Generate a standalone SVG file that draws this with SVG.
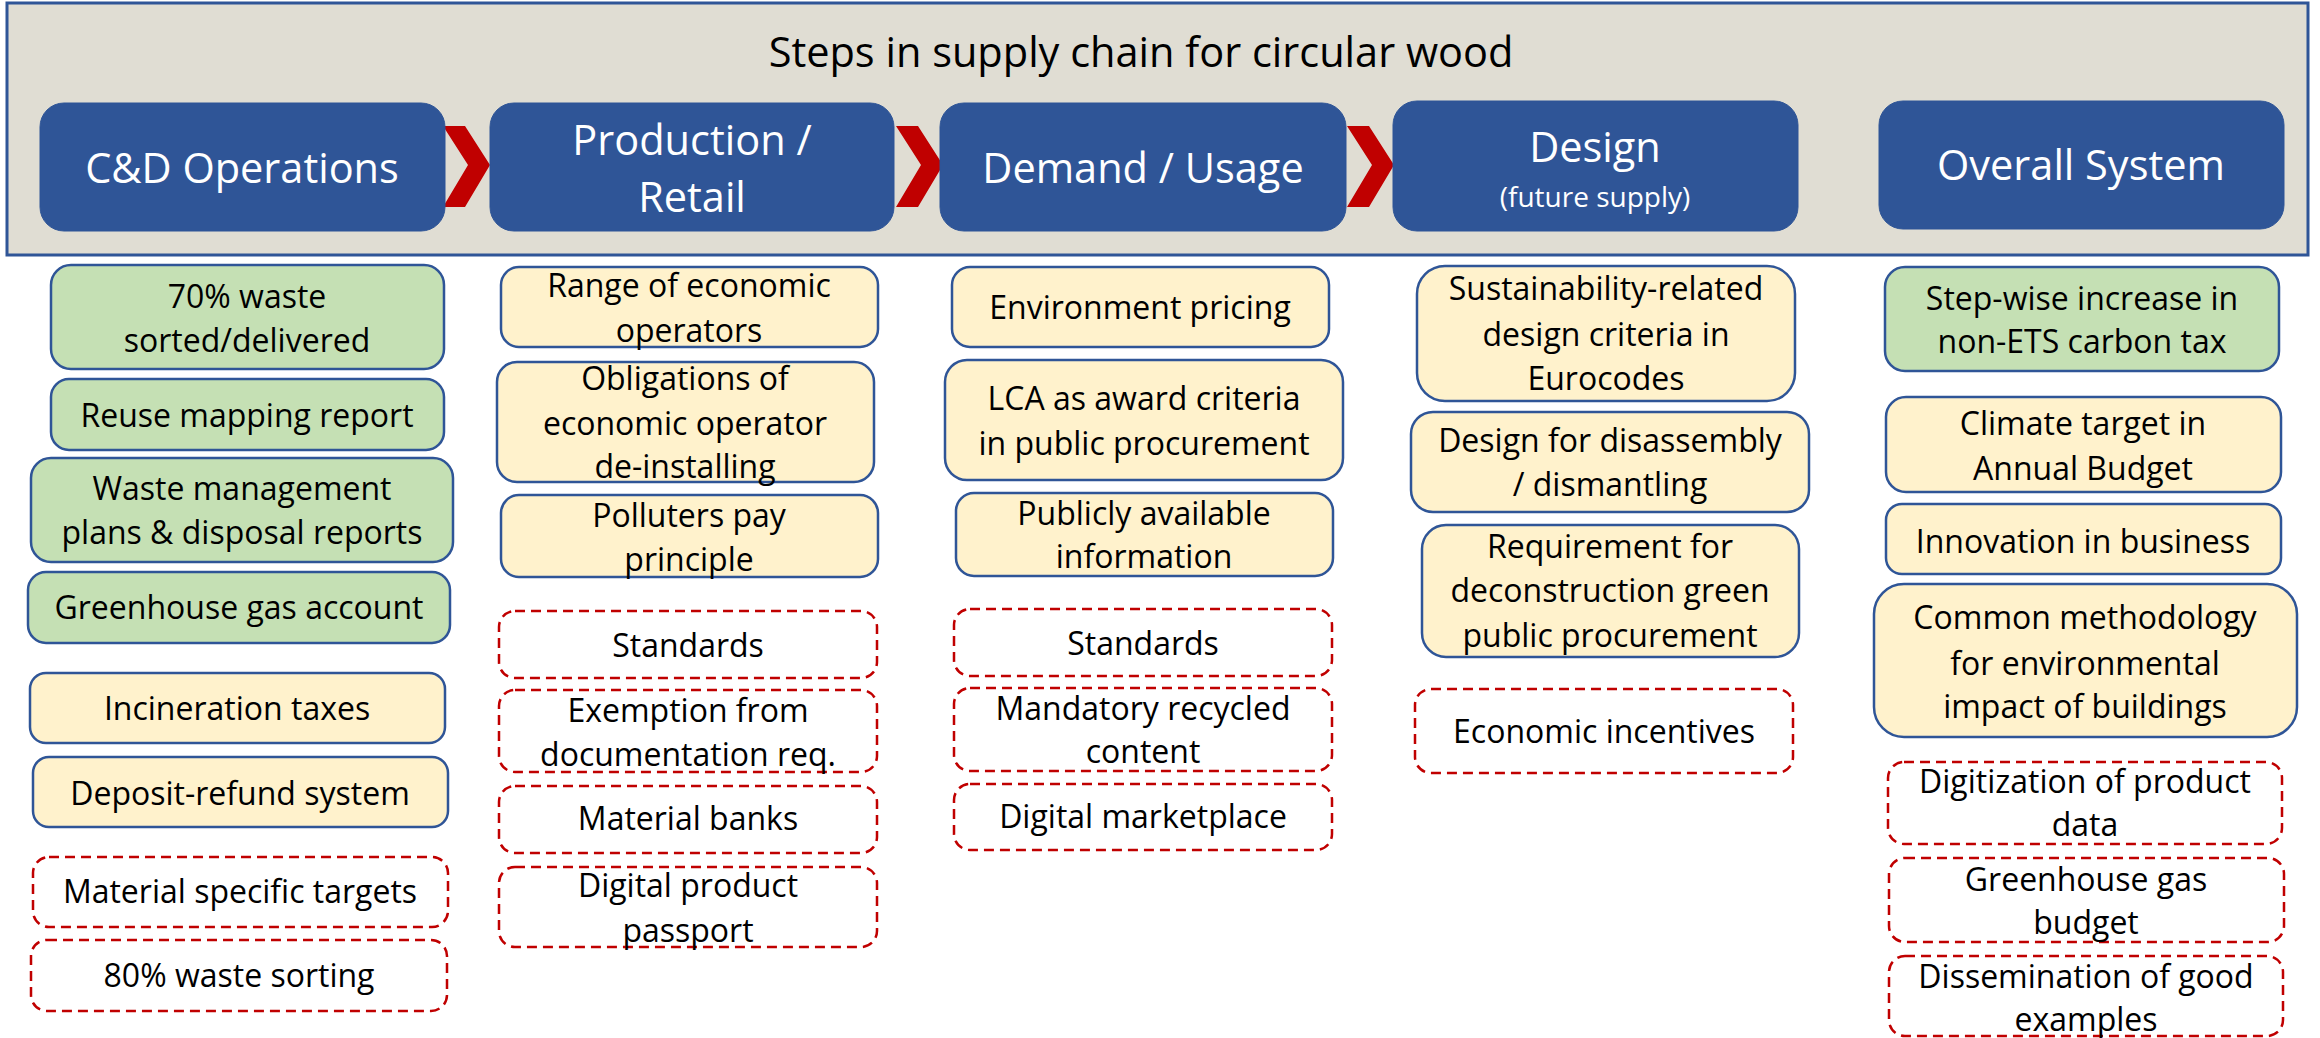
<svg xmlns="http://www.w3.org/2000/svg" width="2320" height="1038" viewBox="0 0 2320 1038">
<style>
text{font-family:"Open Sans","Noto Sans",sans-serif;text-anchor:middle}
.frame{fill:#E0DDD3;stroke:#2F5597;stroke-width:3}
.title{font-size:41.5px;fill:#000}
.hdr{fill:#2F5597;stroke:#2F5597;stroke-width:1}
.ht{font-size:41.5px;fill:#fff}
.hs{font-size:28px;fill:#fff}
.g{fill:#C5E0B4;stroke:#2F5597;stroke-width:2.5}
.y{fill:#FFF2CC;stroke:#2F5597;stroke-width:2.5}
.d{fill:#fff;stroke:#C00000;stroke-width:2.5;stroke-dasharray:10 6}
.t{font-size:32px;fill:#000}
.chev{fill:#C00000}
</style>
<rect class="frame" x="7" y="3" width="2301" height="252"/>
<text class="title" x="1141" y="67">Steps in supply chain for circular wood</text>

<g id="connectors">
<path class="chev" d="M443,126 L465,126 L490,165 L465,207 L443,207 L468,165 Z"/>
<path class="chev" d="M896,126 L918,126 L943,165 L918,207 L896,207 L921,165 Z"/>
<path class="chev" d="M1347,126 L1369,126 L1394,165 L1369,207 L1347,207 L1372,165 Z"/>
</g>

<g id="h-cd"><rect class="hdr" x="40" y="103" width="405" height="128" rx="24"/><text class="ht" x="242" y="183">C&amp;D Operations</text></g>
<g id="h-prod"><rect class="hdr" x="490" y="103" width="404" height="128" rx="24"/><text class="ht" x="692" y="155">Production /</text><text class="ht" x="692" y="212">Retail</text></g>
<g id="h-demand"><rect class="hdr" x="940" y="103" width="406" height="128" rx="24"/><text class="ht" x="1143" y="183">Demand / Usage</text></g>
<g id="h-design"><rect class="hdr" x="1393" y="101" width="405" height="130" rx="24"/><text class="ht" x="1595" y="162">Design</text><text class="hs" x="1595" y="207">(future supply)</text></g>
<g id="h-overall"><rect class="hdr" x="1879" y="101" width="405" height="128" rx="24"/><text class="ht" x="2081" y="180">Overall System</text></g>

<g id="a1"><rect class="g" x="51" y="265" width="393" height="104" rx="20"/><text class="t" x="247" y="308">70% waste</text><text class="t" x="247" y="352">sorted/delivered</text></g>
<g id="a2"><rect class="g" x="51" y="379" width="393" height="71" rx="18"/><text class="t" x="247" y="427">Reuse mapping report</text></g>
<g id="a3"><rect class="g" x="31" y="458" width="422" height="104" rx="20"/><text class="t" x="242" y="500">Waste management</text><text class="t" x="242" y="544">plans &amp; disposal reports</text></g>
<g id="a4"><rect class="g" x="28" y="572" width="422" height="71" rx="18"/><text class="t" x="239" y="619">Greenhouse gas account</text></g>
<g id="a5"><rect class="y" x="30" y="673" width="415" height="70" rx="16"/><text class="t" x="237" y="720">Incineration taxes</text></g>
<g id="a6"><rect class="y" x="33" y="757" width="415" height="70" rx="16"/><text class="t" x="240" y="805">Deposit-refund system</text></g>
<g id="a7"><rect class="d" x="33" y="857" width="415" height="70" rx="16"/><text class="t" x="240" y="903">Material specific targets</text></g>
<g id="a8"><rect class="d" x="31" y="940" width="416" height="71" rx="16"/><text class="t" x="239" y="987">80% waste sorting</text></g>

<g id="b1"><rect class="y" x="501" y="267" width="377" height="80" rx="18"/><text class="t" x="689" y="297">Range of economic</text><text class="t" x="689" y="342">operators</text></g>
<g id="b2"><rect class="y" x="497" y="362" width="377" height="120" rx="20"/><text class="t" x="685" y="390">Obligations of</text><text class="t" x="685" y="435">economic operator</text><text class="t" x="685" y="478">de-installing</text></g>
<g id="b3"><rect class="y" x="501" y="495" width="377" height="82" rx="18"/><text class="t" x="689" y="527">Polluters pay</text><text class="t" x="689" y="571">principle</text></g>
<g id="b4"><rect class="d" x="499" y="611" width="378" height="67" rx="16"/><text class="t" x="688" y="657">Standards</text></g>
<g id="b5"><rect class="d" x="499" y="690" width="378" height="82" rx="16"/><text class="t" x="688" y="722">Exemption from</text><text class="t" x="688" y="766">documentation req.</text></g>
<g id="b6"><rect class="d" x="499" y="786" width="378" height="67" rx="16"/><text class="t" x="688" y="830">Material banks</text></g>
<g id="b7"><rect class="d" x="499" y="867" width="378" height="80" rx="16"/><text class="t" x="688" y="897">Digital product</text><text class="t" x="688" y="942">passport</text></g>

<g id="c1"><rect class="y" x="952" y="267" width="377" height="80" rx="18"/><text class="t" x="1140" y="319">Environment pricing</text></g>
<g id="c2"><rect class="y" x="945" y="360" width="398" height="120" rx="22"/><text class="t" x="1144" y="410">LCA as award criteria</text><text class="t" x="1144" y="455">in public procurement</text></g>
<g id="c3"><rect class="y" x="956" y="493" width="377" height="83" rx="18"/><text class="t" x="1144" y="525">Publicly available</text><text class="t" x="1144" y="568">information</text></g>
<g id="c4"><rect class="d" x="954" y="609" width="378" height="67" rx="16"/><text class="t" x="1143" y="655">Standards</text></g>
<g id="c5"><rect class="d" x="954" y="688" width="378" height="83" rx="16"/><text class="t" x="1143" y="720">Mandatory recycled</text><text class="t" x="1143" y="763">content</text></g>
<g id="c6"><rect class="d" x="954" y="784" width="378" height="66" rx="16"/><text class="t" x="1143" y="828">Digital marketplace</text></g>

<g id="d1"><rect class="y" x="1417" y="266" width="378" height="135" rx="28"/><text class="t" x="1606" y="300">Sustainability-related</text><text class="t" x="1606" y="346">design criteria in</text><text class="t" x="1606" y="390">Eurocodes</text></g>
<g id="d2"><rect class="y" x="1411" y="412" width="398" height="100" rx="22"/><text class="t" x="1610" y="452">Design for disassembly</text><text class="t" x="1610" y="496">/ dismantling</text></g>
<g id="d3"><rect class="y" x="1422" y="525" width="377" height="132" rx="24"/><text class="t" x="1610" y="558">Requirement for</text><text class="t" x="1610" y="602">deconstruction green</text><text class="t" x="1610" y="647">public procurement</text></g>
<g id="d4"><rect class="d" x="1415" y="689" width="378" height="84" rx="16"/><text class="t" x="1604" y="743">Economic incentives</text></g>

<g id="e1"><rect class="g" x="1885" y="267" width="394" height="104" rx="20"/><text class="t" x="2082" y="310">Step-wise increase in</text><text class="t" x="2082" y="353">non-ETS carbon tax</text></g>
<g id="e2"><rect class="y" x="1886" y="397" width="395" height="95" rx="20"/><text class="t" x="2083" y="435">Climate target in</text><text class="t" x="2083" y="480">Annual Budget</text></g>
<g id="e3"><rect class="y" x="1886" y="504" width="395" height="70" rx="16"/><text class="t" x="2083" y="553">Innovation in business</text></g>
<g id="e4"><rect class="y" x="1874" y="584" width="423" height="153" rx="30"/><text class="t" x="2085" y="629">Common methodology</text><text class="t" x="2085" y="675">for environmental</text><text class="t" x="2085" y="718">impact of buildings</text></g>
<g id="e5"><rect class="d" x="1888" y="762" width="394" height="82" rx="16"/><text class="t" x="2085" y="793">Digitization of product</text><text class="t" x="2085" y="836">data</text></g>
<g id="e6"><rect class="d" x="1889" y="858" width="395" height="84" rx="16"/><text class="t" x="2086" y="891">Greenhouse gas</text><text class="t" x="2086" y="934">budget</text></g>
<g id="e7"><rect class="d" x="1889" y="956" width="394" height="80" rx="16"/><text class="t" x="2086" y="988">Dissemination of good</text><text class="t" x="2086" y="1031">examples</text></g>
</svg>
